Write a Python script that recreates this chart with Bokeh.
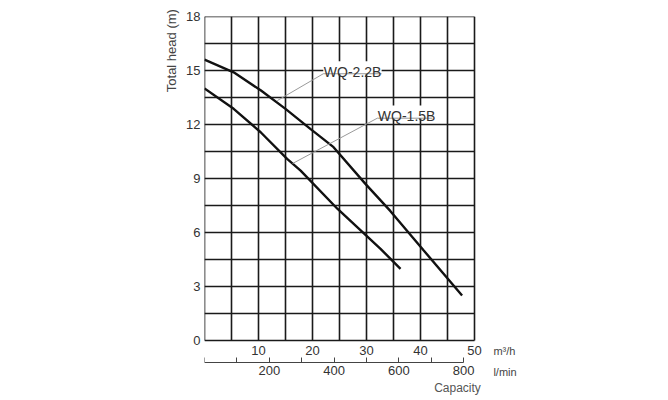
import math
from bokeh.plotting import figure
from bokeh.models import Range1d, LinearAxis, FixedTicker, Title
from bokeh.core.properties import value
from bokeh.embed import file_html
from bokeh.resources import INLINE

# ---- data ----
flow_22 = [0, 5.4, 10.4, 15.0, 19.6, 23.9, 29.8, 34.4, 40.6, 47.7]      # m3/h
head_22 = [15.6, 14.9, 13.9, 12.87, 11.76, 10.74, 8.7, 7.2, 5.0, 2.5]   # m
flow_15 = [0, 5.4, 10.4, 15.3, 17.8, 24.6, 32.6, 36.3]
head_15 = [14.0, 12.87, 11.57, 10.09, 9.44, 7.32, 5.09, 3.98]

series_names = ["WQ-2.2B", "WQ-1.5B"]
leader_22_x = [13.5, 22.0, 32.8]
leader_22_y = [13.33, 14.82, 14.82]
leader_15_x = [16.3, 32.0, 42.2]
leader_15_y = [9.83, 12.35, 12.35]

head_ticks = [0, 3, 6, 9, 12, 15, 18]
flow_ticks = [10, 20, 30, 40, 50]
lmin_ticks = [0, 100, 200, 300, 400, 500, 600, 700, 800]
lmin_labels = {0: "", 100: "", 200: "200", 300: "", 400: "400", 500: "", 600: "600", 700: "", 800: "800"}
grid_flow = [0, 5, 10, 15, 20, 25, 30, 35, 40, 45, 50]
grid_head = [0, 1.5, 3, 4.5, 6, 7.5, 9, 10.5, 12, 13.5, 15, 16.5, 18]
FLOW_MAX, HEAD_MAX = 50, 18

FONT = "Liberation Sans"

# frame: x 0..60 m3/h over 324 px, y -3.333..18 m over 384 px (5.4 and 18 px per unit)
p = figure(width=668, height=400, output_backend="svg", toolbar_location=None,
           x_range=Range1d(0, 60), y_range=Range1d(18 - 384 / 18, 18),
           min_border_left=204, min_border_right=140, min_border_top=16, min_border_bottom=0,
           x_axis_location=None, y_axis_location=None)
p.background_fill_color = "white"
p.border_fill_color = "white"
p.outline_line_color = None
p.xgrid.grid_line_color = None
p.ygrid.grid_line_color = None

# grid box (drawn from tick lists, limited to the chart box)
GRID = dict(line_color="#1a1a1a", line_width=1.6)
p.segment(x0=grid_flow, x1=grid_flow, y0=[0] * len(grid_flow), y1=[HEAD_MAX] * len(grid_flow), **GRID)
p.segment(x0=[0] * len(grid_head), x1=[FLOW_MAX] * len(grid_head), y0=grid_head, y1=grid_head, **GRID)

# y axis
yax = LinearAxis(ticker=FixedTicker(ticks=head_ticks))
yax.axis_line_color = None
yax.major_tick_line_color = None
yax.major_tick_in = 0
yax.major_tick_out = 0
yax.minor_tick_line_color = None
yax.major_label_standoff = 4
yax.major_label_text_font = FONT
yax.major_label_text_font_size = "13px"
yax.major_label_text_color = "#333333"
p.add_layout(yax, "left")

# x axis m3/h (at head = 0)
xax = LinearAxis(ticker=FixedTicker(ticks=flow_ticks), fixed_location=0)
xax.axis_line_color = None
xax.major_tick_line_color = None
xax.major_tick_in = 0
xax.major_tick_out = 0
xax.minor_tick_line_color = None
xax.major_label_standoff = 5
xax.major_label_text_font = FONT
xax.major_label_text_font_size = "13px"
xax.major_label_text_color = "#333333"
p.add_layout(xax, "below")

# x axis l/min (a little below the box)
p.extra_x_ranges = {"lmin": Range1d(0, 60 * 1000 / 60)}
lax = LinearAxis(x_range_name="lmin", ticker=FixedTicker(ticks=lmin_ticks), bounds=(0, 800),
                 fixed_location=-22 / 18)
lax.axis_line_color = "#444444"
lax.axis_line_width = 1
lax.major_tick_in = 5
lax.major_tick_out = 0
lax.major_tick_line_color = "#444444"
lax.minor_tick_line_color = None
lax.major_label_overrides = lmin_labels
lax.major_label_standoff = 3
lax.major_label_text_font = FONT
lax.major_label_text_font_size = "13px"
lax.major_label_text_color = "#333333"
p.add_layout(lax, "below")

# white boxes behind the series names
p.quad(left=[leader_22_x[1], leader_15_x[1]], right=[leader_22_x[2], leader_15_x[2]],
       bottom=[leader_22_y[1], leader_15_y[1]], top=[leader_22_y[1] + 0.7, leader_15_y[1] + 0.7],
       fill_color="white", line_color=None)

# curves
p.line(flow_22, head_22, line_color="#111111", line_width=2.4)
p.line(flow_15, head_15, line_color="#111111", line_width=2.4)

# leader lines and names
p.line(leader_22_x, leader_22_y, line_color="#9a9a9a", line_width=1)
p.line(leader_15_x, leader_15_y, line_color="#9a9a9a", line_width=1)
p.text(x=[leader_22_x[1] + 0.1, leader_15_x[1] + 0.1], y=[leader_22_y[1] + 0.1, leader_15_y[1] + 0.1],
       text=series_names, text_font=value(FONT), text_font_size="14px",
       text_color="#333333", text_align="left", text_baseline="alphabetic")

# unit and axis texts
p.text(x=[53.5, 53.5], y=[-10 / 18, -31 / 18], text=["m³/h", "l/min"],
       text_font=value(FONT), text_font_size="11px", text_color="#444444",
       text_align="left", text_baseline="middle")
p.text(x=[46.85], y=[-47 / 18], text=["Capacity"],
       text_font=value(FONT), text_font_size="12px", text_color="#555555",
       text_align="center", text_baseline="middle")

p.add_layout(Title(text="Total head  (m)", align="right", offset=-11, text_font=FONT,
                   text_font_size="13px", text_font_style="normal", text_color="#444444"), "left")

open("out.html", "w").write(file_html(p, INLINE))
